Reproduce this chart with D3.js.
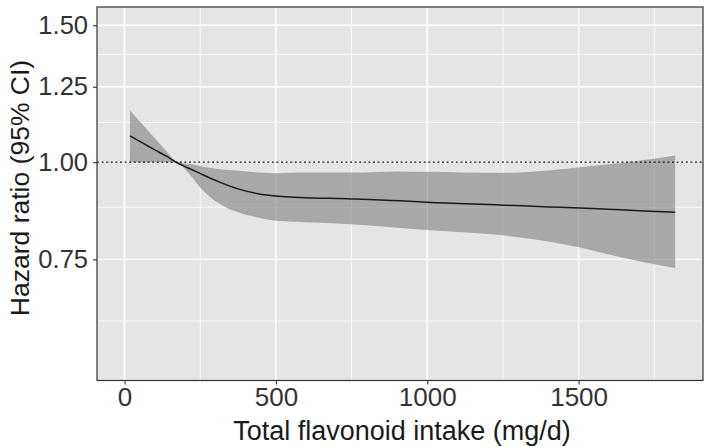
<!DOCTYPE html>
<html>
<head>
<meta charset="utf-8">
<script src="https://cdn.jsdelivr.net/npm/d3@7"></script>
<style>
  html, body { margin: 0; padding: 0; background: #ffffff; }
  svg { display: block; font-family: "Liberation Sans", Arial, Helvetica, sans-serif; }
</style>
</head>
<body>
<svg id="chart" width="709" height="447"></svg>
<script>
// ---- data ----
const intake = [18, 55, 100, 140, 170, 210, 250, 310, 375, 440, 510, 580, 750, 910, 1000, 1240, 1400, 1505, 1600, 1700, 1819];
const hrEstimate = [1.081, 1.061, 1.037, 1.017, 1.000, 0.983, 0.967, 0.944, 0.924, 0.911, 0.904, 0.901, 0.897, 0.892, 0.888, 0.881, 0.876, 0.873, 0.870, 0.866, 0.862];
const hrUpper = [1.165, 1.123, 1.073, 1.031, 1.003, 0.995, 0.989, 0.980, 0.975, 0.970, 0.968, 0.970, 0.970, 0.973, 0.972, 0.969, 0.976, 0.985, 0.994, 1.004, 1.020];
const hrLower = [1.000, 1.000, 1.000, 1.000, 0.998, 0.970, 0.928, 0.886, 0.862, 0.849, 0.840, 0.838, 0.832, 0.823, 0.818, 0.806, 0.791, 0.777, 0.761, 0.746, 0.731];

const xTicks = [0, 500, 1000, 1500];
const xMinor = [250, 750, 1250, 1750];
const yTicks = [0.75, 1.00, 1.25, 1.50];
const yMinor = [0.625, 0.875, 1.125, 1.375];
const yTickLabels = ["0.75", "1.00", "1.25", "1.50"];
const xDomain = [-91, 1911];
const yDomain = [0.524, 1.583];
const refValue = 1.0;
const xTitle = "Total flavonoid intake (mg/d)";
const yTitle = "Hazard ratio (95% CI)";

// ---- layout ----
const panel = { left: 97, right: 703, top: 7, bottom: 380.5 };
const svg = d3.select("#chart");

const x = d3.scaleLinear().domain(xDomain).range([panel.left, panel.right]);
const y = d3.scaleLog().domain(yDomain).range([panel.bottom, panel.top]);

// panel background
svg.append("rect")
  .attr("x", panel.left).attr("y", panel.top)
  .attr("width", panel.right - panel.left).attr("height", panel.bottom - panel.top)
  .attr("fill", "#e5e5e5");

const grid = svg.append("g");
// minor grid
grid.selectAll(".vmin").data(xMinor).join("line")
  .attr("x1", d => x(d)).attr("x2", d => x(d))
  .attr("y1", panel.top).attr("y2", panel.bottom)
  .attr("stroke", "#ffffff").attr("stroke-width", 0.8);
grid.selectAll(".hmin").data(yMinor).join("line")
  .attr("y1", d => y(d)).attr("y2", d => y(d))
  .attr("x1", panel.left).attr("x2", panel.right)
  .attr("stroke", "#ffffff").attr("stroke-width", 0.8);
// major grid
grid.selectAll(".vmaj").data(xTicks).join("line")
  .attr("x1", d => x(d)).attr("x2", d => x(d))
  .attr("y1", panel.top).attr("y2", panel.bottom)
  .attr("stroke", "#ffffff").attr("stroke-width", 1.4);
grid.selectAll(".hmaj").data(yTicks).join("line")
  .attr("y1", d => y(d)).attr("y2", d => y(d))
  .attr("x1", panel.left).attr("x2", panel.right)
  .attr("stroke", "#ffffff").attr("stroke-width", 1.4);

// data rows
const rows = intake.map((v, i) => ({ x: v, est: hrEstimate[i], lo: hrLower[i], hi: hrUpper[i] }));

// ribbon
const area = d3.area()
  .x(d => x(d.x))
  .y0(d => y(d.lo))
  .y1(d => y(d.hi))
  .curve(d3.curveMonotoneX);
svg.append("path")
  .datum(rows)
  .attr("d", area)
  .attr("fill", "#7f7f7f")
  .attr("fill-opacity", 0.6);

// reference line
svg.append("line")
  .attr("x1", panel.left).attr("x2", panel.right)
  .attr("y1", y(refValue)).attr("y2", y(refValue))
  .attr("stroke", "#111111").attr("stroke-width", 1.3)
  .attr("stroke-dasharray", "2,2.6");

// estimate line
const line = d3.line()
  .x(d => x(d.x))
  .y(d => y(d.est))
  .curve(d3.curveMonotoneX);
svg.append("path")
  .datum(rows)
  .attr("d", line)
  .attr("fill", "none")
  .attr("stroke", "#1a1a1a")
  .attr("stroke-width", 1.5);

// panel border
svg.append("rect")
  .attr("x", panel.left).attr("y", panel.top)
  .attr("width", panel.right - panel.left).attr("height", panel.bottom - panel.top)
  .attr("fill", "none").attr("stroke", "#333333").attr("stroke-width", 1.2);

// axes
const xAxis = d3.axisBottom(x).tickValues(xTicks).tickSize(4).tickPadding(3).tickFormat(d3.format("d"));
const gx = svg.append("g").attr("transform", `translate(0,${panel.bottom})`).call(xAxis);
gx.select(".domain").remove();
gx.selectAll(".tick line").attr("stroke", "#333333").attr("stroke-width", 1.1);
gx.selectAll(".tick text").attr("fill", "#333333").attr("font-size", 26)
  .attr("font-family", "Liberation Sans, Arial, sans-serif");

const yAxis = d3.axisLeft(y).tickValues(yTicks).tickSize(4).tickPadding(5)
  .tickFormat((d, i) => yTickLabels[i]);
const gy = svg.append("g").attr("transform", `translate(${panel.left},0)`).call(yAxis);
gy.select(".domain").remove();
gy.selectAll(".tick line").attr("stroke", "#333333").attr("stroke-width", 1.1);
gy.selectAll(".tick text").attr("fill", "#333333").attr("font-size", 25.5)
  .attr("font-family", "Liberation Sans, Arial, sans-serif");

// titles
svg.append("text")
  .attr("x", 402)
  .attr("y", 440)
  .attr("text-anchor", "middle")
  .attr("font-size", 27)
  .attr("fill", "#1a1a1a")
  .text(xTitle);

svg.append("text")
  .attr("transform", `translate(29,${188}) rotate(-90)`)
  .attr("text-anchor", "middle")
  .attr("font-size", 26.5)
  .attr("fill", "#1a1a1a")
  .text(yTitle);
</script>
</body>
</html>
